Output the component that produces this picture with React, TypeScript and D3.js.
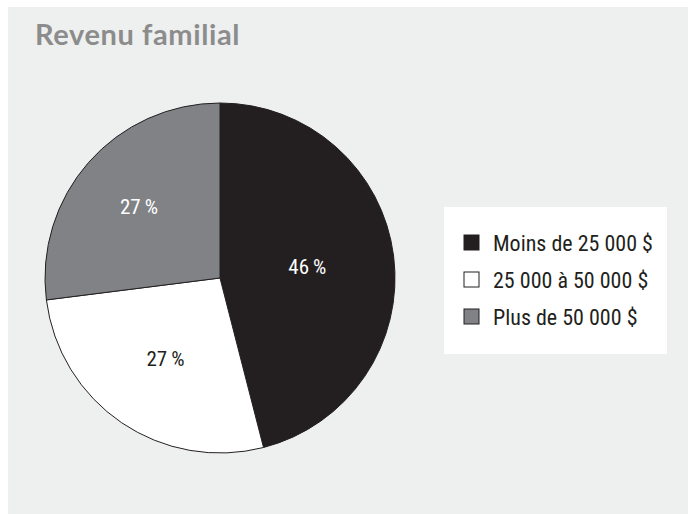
import React from "react";
import * as d3 from "d3";

const title = "Revenu familial";
const categories = ["Moins de 25 000 $", "25 000 à 50 000 $", "Plus de 50 000 $"];
const values = [46, 27, 27];
const labels = ["46\u2009%", "27\u2009%", "27\u2009%"];
const colors = ["#231f20", "#ffffff", "#808285"];
const labelColors = ["#ffffff", "#231f20", "#ffffff"];
const labelRadii = [88, 97, 108];

const W = 689;
const H = 514;
const cx = 220;
const cy = 278;
const R = 175;
const condensed = "'Liberation Sans Narrow', 'Roboto Condensed', 'Arial Narrow', sans-serif";

export default function App() {
  const pie = d3.pie<number>().sort(null).value((d) => d).startAngle(0).endAngle(2 * Math.PI);
  const arcs = pie(values);
  const arcGen = d3.arc<d3.PieArcDatum<number>>().innerRadius(0).outerRadius(R);

  return (
    <svg
      width={W}
      height={H}
      style={{ position: "absolute", left: 0, top: 0 }}
      viewBox={`0 0 ${W} ${H}`}
    >
      <rect x={0} y={0} width={W} height={H} fill="#ffffff" />
      <rect x={8} y={7} width={680} height={507} fill="#eef0ef" />
      <text
        x={35}
        y={45}
        fontFamily="Lato, 'Open Sans', sans-serif"
        fontWeight={700}
        fontSize={29}
        letterSpacing={0.6}
        fill="#8c8c8c"
      >
        {title}
      </text>
      <g transform={`translate(${cx},${cy})`}>
        {arcs.map((a, i) => (
          <path key={i} d={arcGen(a) || ""} fill={colors[i]} stroke="#231f20" strokeWidth={1} />
        ))}
        {arcs.map((a, i) => {
          const mid = (a.startAngle + a.endAngle) / 2;
          const r = labelRadii[i];
          const x = r * Math.sin(mid);
          const y = -r * Math.cos(mid);
          return (
            <text
              key={i}
              x={x}
              y={y}
              dy="0.35em"
              textAnchor="middle"
              fontFamily={condensed}
              fontSize={21}
              fill={labelColors[i]}
            >
              {labels[i]}
            </text>
          );
        })}
      </g>
      <rect x={444} y={207} width={223} height={147} fill="#ffffff" />
      {categories.map((c, i) => (
        <g key={c} transform={`translate(464,${243 + i * 37})`}>
          <rect x={0} y={-8} width={15} height={15} fill={colors[i]} stroke="#231f20" strokeWidth={1} />
          <text x={29} y={0} dy="0.35em" fontFamily={condensed} fontSize={22} fill="#231f20">
            {c}
          </text>
        </g>
      ))}
    </svg>
  );
}
